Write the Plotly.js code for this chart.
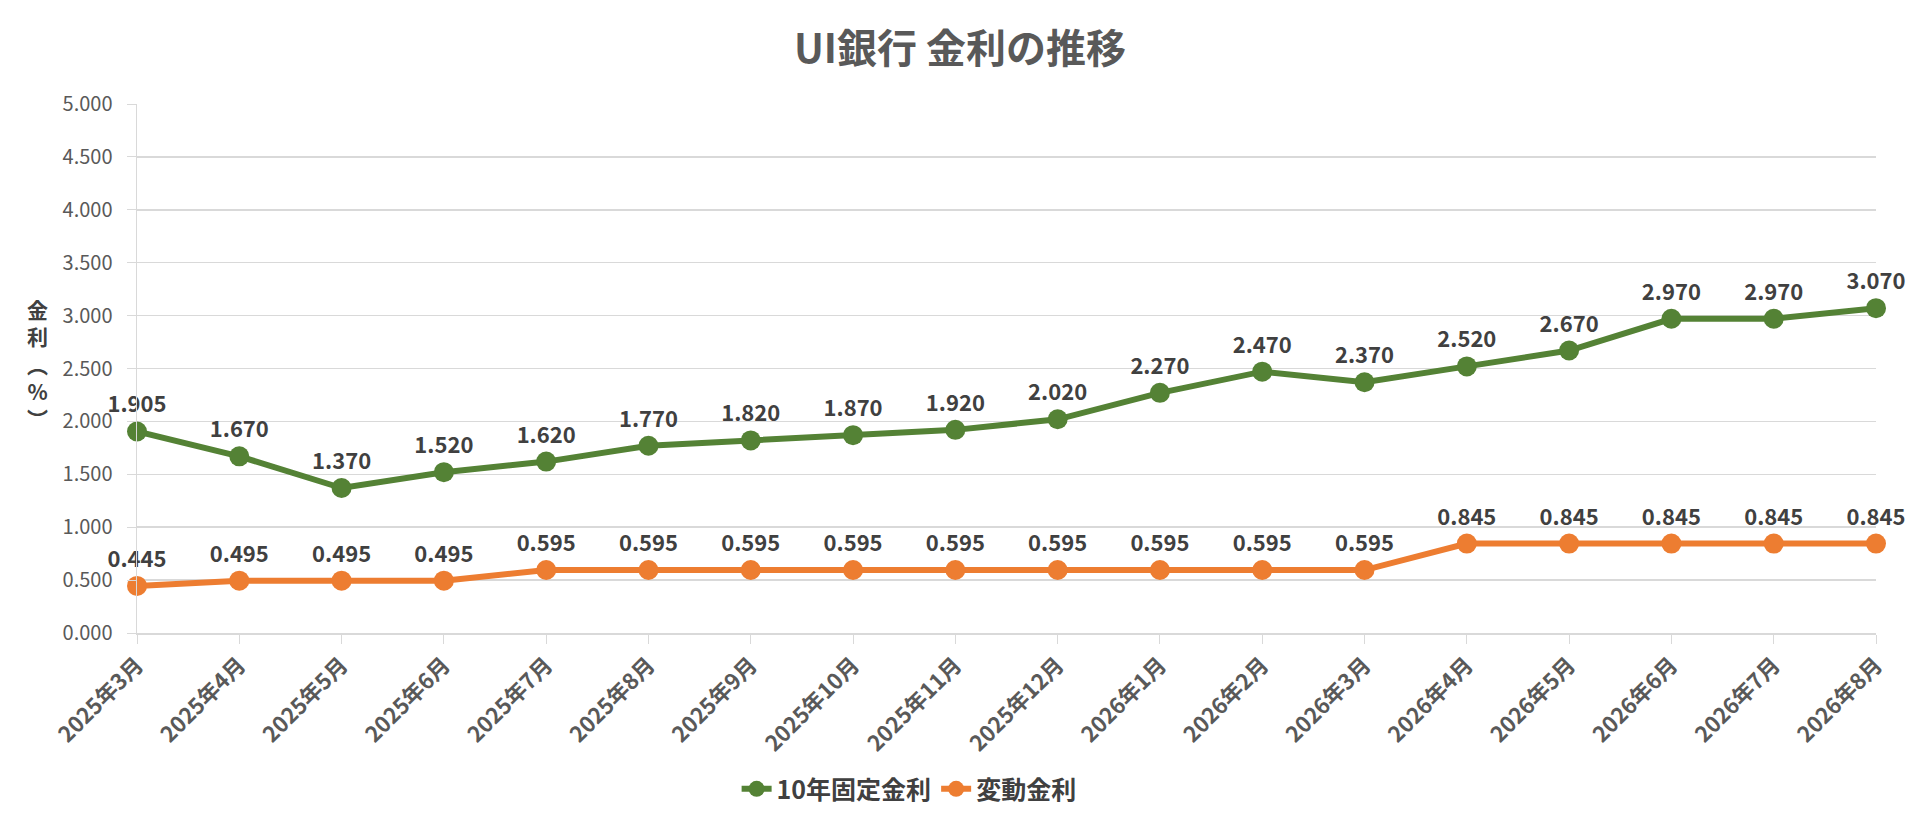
<!DOCTYPE html>
<html>
<head>
<meta charset="utf-8">
<script src="https://cdn.plot.ly/plotly-3.0.1.min.js"></script>
<style>
  html, body { margin: 0; padding: 0; background: #fff; }
  #chart { width: 1920px; height: 830px; outline: 2px solid #d9d9d9; outline-offset: -2px; }
</style>
</head>
<body>
<div id="chart"></div>
<script>
// months on the x axis
var months = ["2025年3月", "2025年4月", "2025年5月", "2025年6月", "2025年7月", "2025年8月",
              "2025年9月", "2025年10月", "2025年11月", "2025年12月", "2026年1月", "2026年2月",
              "2026年3月", "2026年4月", "2026年5月", "2026年6月", "2026年7月", "2026年8月"];

// 10年固定金利 (%)
var fixedRates = [1.905, 1.670, 1.370, 1.520, 1.620, 1.770, 1.820, 1.870, 1.920,
                  2.020, 2.270, 2.470, 2.370, 2.520, 2.670, 2.970, 2.970, 3.070];

// 変動金利 (%)
var variableRates = [0.445, 0.495, 0.495, 0.495, 0.595, 0.595, 0.595, 0.595, 0.595,
                     0.595, 0.595, 0.595, 0.595, 0.845, 0.845, 0.845, 0.845, 0.845];

var yTicks = [0, 0.5, 1, 1.5, 2, 2.5, 3, 3.5, 4, 4.5, 5];

var FONT = "'Noto Sans CJK JP', 'Noto Sans', sans-serif";

function makeTrace(name, values, color)
{
        return {
                x: months,
                y: values,
                name: name,
                type: 'scatter',
                mode: 'lines+markers+text',
                text: values.map(function (v) { return v.toFixed(3); }),
                textposition: 'top center',
                textfont: {family: FONT, size: 22, color: '#404040', weight: 'bold'},
                line: {color: color, width: 6},
                marker: {color: color, size: 20},
                cliponaxis: false,
                hoverinfo: 'x+y'
        };
}

var data = [
        makeTrace('10年固定金利', fixedRates, '#548235'),
        makeTrace('変動金利', variableRates, '#ED7D31')
];

var layout = {
        width: 1920,
        height: 830,
        paper_bgcolor: '#ffffff',
        plot_bgcolor: '#ffffff',
        font: {family: FONT, color: '#595959'},
        margin: {l: 137, r: 44, t: 104, b: 197},
        title: {
                text: 'UI銀行 金利の推移',
                font: {family: FONT, size: 40, color: '#595959', weight: 'bold'},
                x: 0.5,
                xref: 'container',
                xanchor: 'center',
                y: 1 - 49 / 830,
                yref: 'container',
                yanchor: 'middle'
        },
        xaxis: {
                type: 'category',
                range: [0, months.length - 1],
                automargin: false,
                showgrid: false,
                showline: true,
                linecolor: '#d9d9d9',
                linewidth: 1.5,
                ticks: 'outside',
                ticklen: 9,
                tickcolor: '#d9d9d9',
                tickangle: -45,
                tickfont: {family: FONT, size: 22, color: '#595959', weight: 'bold'},
                fixedrange: true
        },
        yaxis: {
                range: [0, 5],
                automargin: false,
                tickvals: yTicks,
                tickformat: '.3f',
                showgrid: true,
                gridcolor: '#d9d9d9',
                gridwidth: 1.5,
                zeroline: false,
                showline: true,
                linecolor: '#d9d9d9',
                linewidth: 1.5,
                ticks: 'outside',
                ticklen: 9,
                tickcolor: '#d9d9d9',
                ticklabelstandoff: 10,
                tickfont: {family: FONT, size: 20, color: '#595959'},
                fixedrange: true
        },
        annotations: [{
                // vertical axis title, one character per line
                text: '金<br>利<br>︵<br>%<br>︶',
                xref: 'paper',
                yref: 'paper',
                x: -0.057,
                y: 0.51,
                xanchor: 'center',
                yanchor: 'middle',
                showarrow: false,
                font: {family: FONT, size: 21, color: '#404040', weight: 'bold'}
        }],
        showlegend: true,
        legend: {
                orientation: 'h',
                x: 0.444,
                xanchor: 'center',
                y: -0.295,
                yanchor: 'middle',
                font: {family: FONT, size: 25, color: '#404040', weight: 'bold'},
                itemwidth: 30
        }
};

Plotly.newPlot('chart', data, layout, {displayModeBar: false, staticPlot: true});
</script>
</body>
</html>
